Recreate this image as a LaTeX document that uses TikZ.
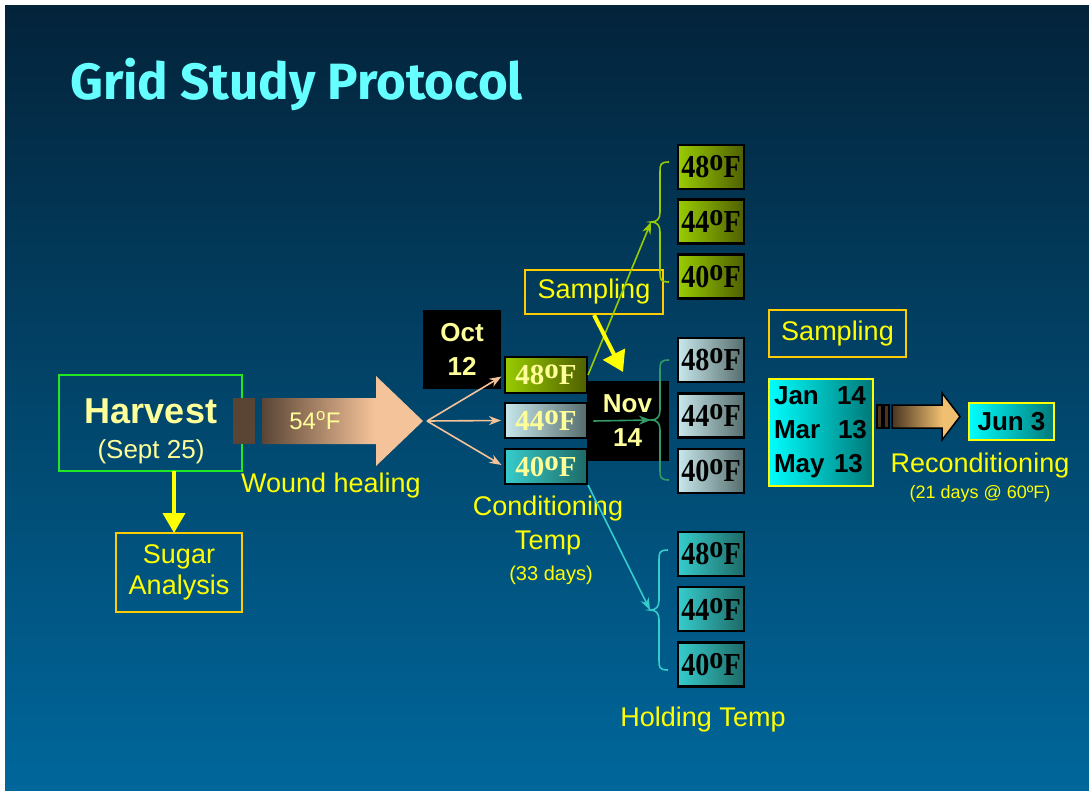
\documentclass[tikz,border=0pt]{standalone}
\usepackage{fontspec}
\setmainfont{Liberation Sans}
\newfontfamily\serifb{Liberation Serif}
\newfontfamily\serifc{Liberation Serif}[FakeStretch=0.88]
\newfontfamily\titlef{Fira Sans}
\usetikzlibrary{arrows.meta}
\definecolor{bgtop}{HTML}{03233A}
\definecolor{bgbot}{HTML}{00679B}
\definecolor{ltyel}{HTML}{FFFF99}
\definecolor{yel}{HTML}{FFFF00}
\definecolor{orng}{HTML}{FFCC00}
\definecolor{hgreen}{HTML}{22E822}
\definecolor{peach}{HTML}{F5C39A}
\definecolor{brownA}{HTML}{5A4535}
\definecolor{gA}{HTML}{99CC00}
\definecolor{gB}{HTML}{4F5F00}
\definecolor{pA}{HTML}{C8E8EC}
\definecolor{pB}{HTML}{566C6C}
\definecolor{cA}{HTML}{36CCCC}
\definecolor{cB}{HTML}{1D6A66}
\definecolor{jA}{HTML}{00FFFF}
\definecolor{jB}{HTML}{007878}
\definecolor{brgreen}{HTML}{339966}
\definecolor{titlec}{HTML}{66FFFF}
\definecolor{tanA}{HTML}{F0C070}
\definecolor{darkA}{HTML}{4A3522}
\pgfdeclarehorizontalshading{woundsh}{100bp}{color(0bp)=(brownA); color(25bp)=(brownA); color(60bp)=(peach); color(100bp)=(peach)}
\pgfdeclarehorizontalshading{smallsh}{100bp}{color(0bp)=(darkA); color(25bp)=(darkA); color(62bp)=(tanA); color(100bp)=(tanA)}
\newcommand\dg{\raisebox{.22em}{o}}
\newcommand\brc[3]{\draw[#1,line width=1.6pt,shift={(#2)}] (18,-#3) .. controls (9,-#3) and (9,-#3+3) .. (9,-#3+10) -- (9,-10) .. controls (9,-3) and (6,0) .. (0,0) .. controls (6,0) and (9,3) .. (9,10) -- (9,#3-10) .. controls (9,#3-3) and (9,#3) .. (18,#3);}
\begin{document}
\begin{tikzpicture}[x=1pt,y=-1pt,
  txt/.style={text=yel,inner sep=0pt,font=\fontsize{27}{30}\selectfont},
  smalltxt/.style={text=yel,inner sep=0pt,font=\fontsize{20}{22}\selectfont},
  ybox/.style={draw=orng,line width=2pt,inner sep=0pt,text=yel,align=center,font=\fontsize{27}{31}\selectfont},
  blackbox/.style={fill=black,inner sep=0pt,text=ltyel,align=center,font=\bfseries\fontsize{26}{34}\selectfont},
  cbox/.style={draw=black,line width=2pt,minimum width=82pt,minimum height=35pt,inner sep=0pt,text=ltyel,font=\serifb\bfseries\fontsize{29}{29}\selectfont},
  hbox/.style={draw=black,line width=2.5pt,minimum width=66pt,minimum height=44pt,inner sep=0pt,text=black,font=\serifc\bfseries\fontsize{32}{32}\selectfont},
  greenfill/.style={left color=gA,right color=gB},
  palefill/.style={left color=pA,right color=pB},
  cyanfill/.style={left color=cA,right color=cB},
  jfill/.style={left color=jA,right color=jB},
  bigarrow/.style={yel,line width=4pt,-{Triangle[length=20pt,width=22pt]}},
  thinarrow/.style={line width=1.6pt,-{Stealth[length=12pt,width=9pt]}}
]
\useasboundingbox (0,0) rectangle (1089,791);
\fill[white] (0,0) rectangle (1089,791);
\shade[top color=bgtop,bottom color=bgbot] (5,6) rectangle (1089,791);

% title
\node[anchor=base west,inner sep=0pt,text=titlec,font=\titlef\bfseries\fontsize{51}{51}\selectfont] (title) at (70,100) {Grid Study Protocol};

% harvest
\node[draw=hgreen,line width=2pt,minimum width=183pt,minimum height=96pt,inner sep=0pt] (harvest) at (150.5,423) {};
\node[text=ltyel,inner sep=0pt,font=\bfseries\fontsize{36}{36}\selectfont] (harvestT) at (151,411) {Harvest};
\node[text=ltyel,inner sep=0pt,font=\fontsize{26}{26}\selectfont] (septT) at (151,452) {(Sept 25)};

% sugar
\node[ybox,minimum width=126pt,minimum height=79pt] (sugar) at (179,572.5) {Sugar\\Analysis};
\coordinate (hs) at (174,471);
\coordinate (se) at (174,533);
\draw[bigarrow] (hs) -- (se);

% wound healing arrow
\fill[brownA] (233,398) rectangle (255,444);
\shade[shading=woundsh] (262,398) -- (376,398) -- (376,376) -- (423,421) -- (376,466) -- (376,444) -- (262,444) -- cycle;
\node[text=ltyel,inner sep=0pt,font=\fontsize{24}{24}\selectfont] (t54) at (315,421) {54\textsuperscript{o}F};
\node[txt] (wound) at (331,486) {Wound healing};
\coordinate (wtip) at (427,421);

% Oct 12
\node[blackbox,minimum width=78pt,minimum height=79pt] (oct) at (462,349.5) {Oct\\12};

% Nov 14
\node[blackbox,minimum width=82pt,minimum height=80pt] (nov) at (627.5,421) {Nov\\14};

% conditioning boxes
\node[cbox,greenfill,minimum height=36pt] (c48) at (546,375) {48\dg F};
\node[cbox,palefill] (c44) at (546,420.5) {44\dg F};
\node[cbox,cyanfill] (c40) at (546,466.5) {40\dg F};

\draw[peach,thinarrow,shorten >=3pt] (wtip) -- (c48.west);
\draw[peach,thinarrow,shorten >=3pt] (wtip) -- (c44.west);
\draw[peach,thinarrow,shorten >=3pt] (wtip) -- (c40.west);

\node[txt] (condT) at (548,509) {Conditioning};
\node[txt] (condT2) at (548,543) {Temp};
\node[smalltxt] (days33) at (551,575) {(33 days)};

% sampling top
\node[ybox,minimum width=138pt,minimum height=44pt] (samp1) at (594,292) {Sampling};

% braces
\coordinate (b1) at (651,222);
\coordinate (b2) at (651,420);
\coordinate (b3) at (650,610);
\brc{gA}{b1}{60}
\brc{brgreen}{b2}{60}
\brc{cA}{b3}{60}

\draw[gA,thinarrow] (c48.east) -- (b1);
\draw[cA,thinarrow] (c40.south east) -- (b3);
\draw[brgreen,thinarrow] ([xshift=7pt]nov.west) -- (b2);

\coordinate (sA) at (623,372);
\draw[yel,line width=4pt,-{Triangle[length=20pt,width=24pt]}] (samp1.south) -- (sA);

% holding boxes
\node[hbox,greenfill] (h1) at (711,167) {48\dg F};
\node[hbox,greenfill] (h2) at (711,221.5) {44\dg F};
\node[hbox,greenfill] (h3) at (711,276.5) {40\dg F};
\node[hbox,palefill] (h4) at (711,360) {48\dg F};
\node[hbox,palefill] (h5) at (711,415.5) {44\dg F};
\node[hbox,palefill] (h6) at (711,471) {40\dg F};
\node[hbox,cyanfill] (h7) at (711,554) {48\dg F};
\node[hbox,cyanfill] (h8) at (711,609) {44\dg F};
\node[hbox,cyanfill] (h9) at (711,664.5) {40\dg F};

\node[txt] (holdT) at (703,720) {Holding Temp};

% right part
\node[ybox,minimum width=137pt,minimum height=46pt] (samp2) at (837.5,333.5) {Sampling};
\node[draw=yel,line width=2pt,jfill,minimum width=104pt,minimum height=107pt,inner sep=0pt,align=left,text=black,font=\bfseries\fontsize{26}{34}\selectfont] (jan) at (820.5,432.5)
  {\makebox[63pt][l]{Jan}14\\\makebox[64pt][l]{Mar}13\\\makebox[60pt][l]{May}13};
\node[draw=yel,line width=2pt,jfill,minimum width=85pt,minimum height=37pt,inner sep=0pt,text=black,font=\bfseries\fontsize{26}{26}\selectfont] (jun) at (1011.5,421.5) {Jun 3};

% small arrow
\draw[black,line width=1.2pt,fill=darkA] (877,405) rectangle (882,428);
\draw[black,line width=1.2pt,fill=darkA] (884,405) rectangle (889,428);
\shade[shading=smallsh,draw=black,line width=1.5pt] (892,405) -- (942,405) -- (942,393) -- (960,416.5) -- (942,440) -- (942,428) -- (892,428) -- cycle;

\node[txt] (recond) at (980,466) {Reconditioning};
\node[text=yel,inner sep=0pt,font=\fontsize{18}{20}\selectfont] (days21) at (980,494) {(21 days @ 60ºF)};
\end{tikzpicture}
\end{document}
